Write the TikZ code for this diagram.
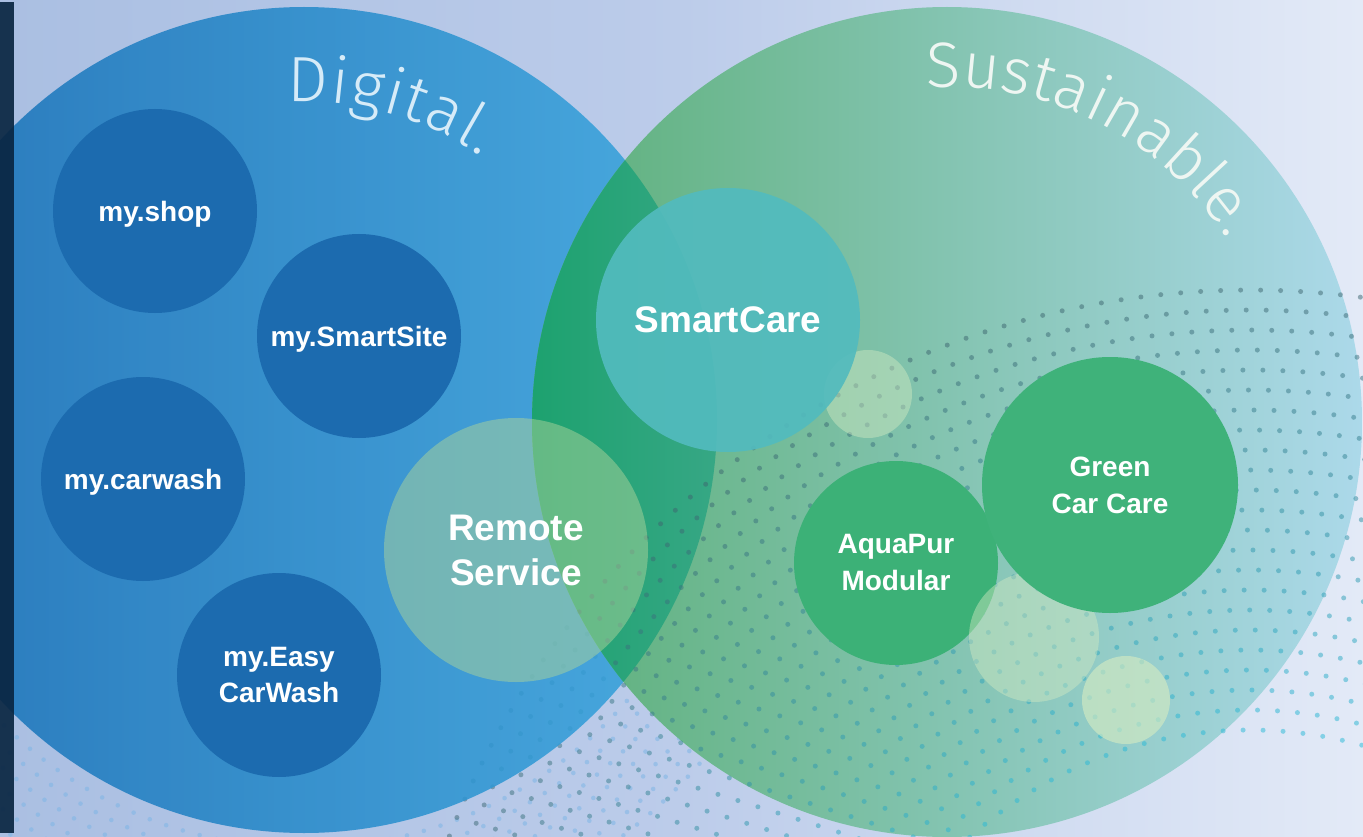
\documentclass[tikz,border=0pt]{standalone}
\usepackage{fontspec}
\usetikzlibrary{decorations.text}
\newfontfamily\labelfont{Liberation Sans}
\newfontfamily\titlefont{Fira Sans Light}

\definecolor{bgleft}{HTML}{AABFE2}
\definecolor{bgmid}{HTML}{BCCCEA}
\definecolor{bgright}{HTML}{E3EAF7}
\definecolor{blueleft}{HTML}{176FB6}
\definecolor{blueright}{HTML}{39A6DE}
\definecolor{greenleft}{HTML}{5CAF78}
\definecolor{greenright}{HTML}{ACD9EA}
\definecolor{overlapleft}{HTML}{1DA26F}
\definecolor{overlapright}{HTML}{8FB8D0}
\definecolor{darkbubble}{HTML}{1C6BAF}
\definecolor{smartteal}{HTML}{52BBBE}
\definecolor{remotefill}{HTML}{ABD39A}
\definecolor{paleleaf}{HTML}{D2EAC2}
\definecolor{aquagreen}{HTML}{3CB177}
\definecolor{caregreen}{HTML}{3FB27A}
\definecolor{dotgray}{HTML}{3D6670}
\definecolor{dotcyan}{HTML}{28B9D7}
\definecolor{dotlight}{HTML}{7FB6E6}
\definecolor{stripnavy}{HTML}{0A2642}
\definecolor{digtext}{HTML}{D6EBF8}
\definecolor{sustext}{HTML}{EEF6F2}

\tikzset{
  bubble/.style={circle, inner sep=0pt, draw=none, text=white, align=center},
  smallbubble/.style={bubble, minimum size=204pt, fill=darkbubble, text depth=0pt,
    font=\labelfont\bfseries\fontsize{28}{36}\selectfont},
  greenbubble/.style={bubble, font=\labelfont\bfseries\fontsize{28}{37}\selectfont},
  bigbubble/.style={bubble, minimum size=264pt,
    font=\labelfont\bfseries\fontsize{37}{45}\selectfont},
  paledot/.style={bubble, fill=paleleaf, fill opacity=#1},
  halftone/.style={fill opacity=0.5}
}

% Punktraster (Halbton-Boegen)
\newcommand{\dotfield}{%
  \foreach \k in {0,...,22}{
    \pgfmathsetmacro{\rr}{420+20*\k}
    \pgfmathsetmacro{\dt}{1146/\rr}
    \pgfmathsetmacro{\ta}{20+mod(\k,2)*0.5*\dt}
    \pgfmathsetmacro{\tb}{\ta+\dt}
    \pgfmathtruncatemacro{\pc}{100*\k/22}
    \colorlet{dotc}{dotgray!\pc!dotcyan}
    \foreach \t in {\ta,\tb,...,170}
      \fill[dotc, halftone] ({1250+\rr*cos(\t)},{1150-\rr*sin(\t)}) circle (2.5);
  }%
}

\begin{document}
\begin{tikzpicture}[x=1pt, y=-1pt]
    \useasboundingbox (0,0) rectangle (1363,837);
    \clip (0,0) rectangle (1363,837);

    %Hintergrund
    \shade[left color=bgleft, right color=bgright, middle color=bgmid] (0,0) rectangle (1363,837);

    %helle Punkte unten links
    \foreach \k in {0,...,6}{
      \pgfmathsetmacro{\rr}{428+16*\k}
      \pgfmathsetmacro{\dt}{1000/\rr}
      \pgfmathsetmacro{\ta}{20+mod(\k,2)*0.5*\dt}
      \pgfmathsetmacro{\tb}{\ta+\dt}
      \foreach \t in {\ta,\tb,...,160}
        \fill[dotlight, fill opacity=0.55] ({304+\rr*cos(\t)},{420+\rr*sin(\t)}) circle (2.3);
    }
    \dotfield

    %Digital
    \node[bubble, minimum size=826pt, left color=blueleft, right color=blueright, fill opacity=0.88] (digital) at (304,420) {};

    %Sustainable
    \node[bubble, minimum size=830pt, left color=greenleft, right color=greenright] (sustain) at (947,422) {};

    %Schnittmenge
    \begin{scope}
      \clip (digital.center) circle (413);
      \shade[left color=overlapleft, right color=overlapright] (sustain.center) circle (415);
    \end{scope}

    %Punkte im gruenen Kreis
    \begin{scope}
      \clip (sustain.center) circle (415);
      \dotfield
    \end{scope}

    %my.-Dienste
    \node[smallbubble] (shop) at (155,211) {my.shop};
    \node[smallbubble] (smartsite) at (359,336) {my.SmartSite};
    \node[smallbubble] (carwash) at (143,479) {my.carwash};
    \node[smallbubble] (easy) at (279,675) {my.Easy\\CarWash};

    %helle Blasen
    \node[paledot=0.45, minimum size=88pt] (pale1) at (868,394) {};

    %SmartCare
    \node[bigbubble, fill=smartteal, fill opacity=0.92, text opacity=1] (smartcare) at (728,320) {SmartCare};

    %Remote Service
    \node[bigbubble, fill=remotefill, fill opacity=0.5, text opacity=1] (remote) at (516,550) {Remote\\Service};

    %AquaPur
    \node[greenbubble, fill=aquagreen, minimum size=204pt] (aquapur) at (896,563) {AquaPur\\Modular};
    \node[paledot=0.45, minimum size=130pt] (pale2) at (1034,637) {};

    %Green Car Care
    \node[greenbubble, fill=caregreen, minimum size=256pt] (greencare) at (1110,485) {Green\\Car Care};
    \node[paledot=0.65, minimum size=88pt] (pale3) at (1126,700) {};

    %Randleiste
    \fill[stripnavy, fill opacity=0.92] (0,2) rectangle (14,833);

    %Titel
    \path[decorate, decoration={text along path, text align=fit to path,
      text={|\titlefont\fontsize{64}{64}\selectfont\color{digtext}|Digital.}}]
      ([shift={(267:318)}]digital.center) arc (267:304:318);
    \path[decorate, decoration={text along path, text align=fit to path,
      text={|\titlefont\fontsize{64}{64}\selectfont\color{sustext}|Sustainable.}}]
      ([shift={(266.5:335)}]sustain.center) arc (266.5:327:335);
\end{tikzpicture}
\end{document}
